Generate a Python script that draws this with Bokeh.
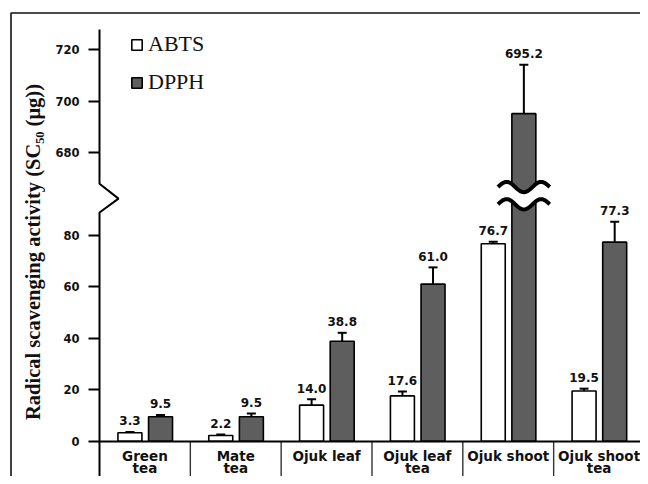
import numpy as np
from bokeh.plotting import figure
from bokeh.models import (ColumnDataSource, Range1d, LinearAxis, FixedTicker, Whisker,
                          TeeHead, Legend, LegendItem, Label)
from bokeh.embed import file_html
from bokeh.resources import INLINE
from bokeh.core.properties import value

# ---------------- data ----------------
categories = ["Green\ntea", "Mate\ntea", "Ojuk leaf", "Ojuk leaf\ntea", "Ojuk shoot", "Ojuk shoot\ntea"]
abts = [3.3, 2.2, 14.0, 17.6, 76.7, 19.5]
abts_err = [0.3, 0.4, 2.3, 1.7, 0.8, 0.9]
dpph = [9.5, 9.5, 38.8, 61.0, 695.2, 77.3]
dpph_err = [0.7, 1.3, 3.3, 6.5, 19.0, 7.9]
y_ticks = [0, 20, 40, 60, 80, 680, 700, 720]
series_names = ["ABTS", "DPPH"]

# ---------------- broken axis mapping ----------------
LOWER_TOP = 80      # last tick of lower segment
UPPER_START = 680   # first tick of upper segment
GAP = 32            # display units between the two segments


def to_disp(v):
    return v if v < 300 else v - UPPER_START + LOWER_TOP + GAP


# ---------------- geometry ----------------
W, H = 640, 476
CW = 90.83          # px per category
X0 = 99             # px from left of y axis
S = 2.575           # px per display unit
Y0 = 440.7          # px from top of zero line
x_start, x_end = -X0 / CW, (W - X0) / CW
y_start, y_end = -(H - Y0) / S, Y0 / S

p = figure(width=W, height=H, x_range=Range1d(x_start, x_end), y_range=Range1d(y_start, y_end),
           output_backend="svg", toolbar_location=None, min_border=0,
           x_axis_type=None, y_axis_type=None)
p.outline_line_color = None
p.background_fill_color = "white"

n = len(categories)
idx = np.arange(n)
OFF_A, OFF_D, BW = 0.335, 0.672, 0.264

ya = [to_disp(v) for v in abts]
yd = [to_disp(v) for v in dpph]
src_a = ColumnDataSource(dict(x=idx + OFF_A, top=ya,
                              up=[to_disp(v + e) for v, e in zip(abts, abts_err)],
                              lo=[to_disp(v - e) for v, e in zip(abts, abts_err)],
                              txt=["%.1f" % v for v in abts]))
src_d = ColumnDataSource(dict(x=idx + OFF_D, top=yd,
                              up=[to_disp(v + e) for v, e in zip(dpph, dpph_err)],
                              lo=[to_disp(v - e) for v, e in zip(dpph, dpph_err)],
                              txt=["%.1f" % v for v in dpph]))

# outer border (top + left)
bx = (10.5 - X0) / CW
by = (Y0 - 12.5) / S
p.line([bx, bx, x_end + 1], [y_start - 1, by, by], line_color="#111111", line_width=1.6)

# category separators below the axis
p.segment(x0=idx[1:].tolist() + [n], y0=[0] * n, x1=idx[1:].tolist() + [n], y1=[y_start] * n,
          line_color="#333333", line_width=1.4)

ra = p.vbar(x="x", top="top", bottom=0, width=BW, source=src_a,
            fill_color="white", line_color="black", line_width=1.6)
rd = p.vbar(x="x", top="top", bottom=0, width=BW, source=src_d,
            fill_color="#5e5e5e", line_color="black", line_width=1.6)

for s in (src_a, src_d):
    p.add_layout(Whisker(source=s, base="x", upper="up", lower="lo", line_width=2,
                         upper_head=TeeHead(size=9, line_width=2),
                         lower_head=TeeHead(size=9, line_width=2)))
    p.text(x="x", y="up", text="txt", source=s, text_align="center", text_baseline="alphabetic",
           y_offset=-11, text_font=value("DejaVu Sans"), text_font_style="bold",
           text_font_size="12px", text_color="#111111")

# break marks on bars above the axis break
t = np.linspace(0, 1, 80)
for i, v in enumerate(dpph):
    if v >= UPPER_START:
        xc = idx[i] + OFF_D
        xs = xc - 0.285 + 0.57 * t
        w1 = 98.7 + 2.0 * np.sin(2 * np.pi * 1.5 * t)
        w2 = 92.0 + 2.0 * np.sin(2 * np.pi * 1.5 * t)
        p.patch(np.concatenate([xs, xs[::-1]]), np.concatenate([w1, w2[::-1]]),
                fill_color="white", line_color=None, level="overlay")
        p.line(xs, w1, line_color="black", line_width=4, level="overlay")
        p.line(xs, w2, line_color="black", line_width=4, level="overlay")

# y-axis line with zig-zag break
p.line([0, 0, 0.209, 0, 0], [159.9, 100.0, 94.2, 88.8, y_start - 1], line_color="black", line_width=2)

# y axis
yax = LinearAxis(fixed_location=0)
yax.ticker = FixedTicker(ticks=[to_disp(v) for v in y_ticks])
yax.major_label_overrides = {to_disp(v): str(v) for v in y_ticks}
yax.axis_line_color = None
yax.major_tick_out = 11
yax.major_tick_in = 0
yax.major_tick_line_width = 2
yax.minor_tick_line_color = None
yax.major_label_standoff = 9
yax.major_label_text_font = "DejaVu Sans"
yax.major_label_text_font_style = "bold"
yax.major_label_text_font_size = "11.5px"
yax.major_label_text_color = "#111111"
p.add_layout(yax, "left")

# x axis (line only; category names drawn below as text, two lines each)
xax = LinearAxis(fixed_location=0)
xax.ticker = FixedTicker(ticks=[i + 0.5 for i in range(n)])
xax.major_label_text_color = None
xax.bounds = (0, x_end)
xax.axis_line_width = 2
xax.axis_line_color = "black"
xax.major_tick_line_color = None
xax.minor_tick_line_color = None
p.add_layout(xax, "below")

line1 = [c.split("\n")[0] for c in categories]
line2 = [c.split("\n")[1] if "\n" in c else "" for c in categories]
cat_src = ColumnDataSource(dict(x=idx + 0.5, y=[0] * n, l1=line1, l2=line2))
for col, off in (("l1", 22.5), ("l2", 34.8)):
    p.text(x="x", y="y", text=col, source=cat_src, text_align="center", text_baseline="bottom",
           y_offset=off, text_font=value("DejaVu Sans"), text_font_style="bold",
           text_font_size="13.5px", text_color="#111111")

# y title
p.add_layout(Label(x=(32 - X0) / CW, y=(Y0 - 251.5) / S, text="Radical scavenging activity (SC₅₀ (μg))",
                   angle=90, angle_units="deg", text_align="center", text_baseline="middle",
                   text_font="Liberation Serif", text_font_style="bold", text_font_size="20.5px",
                   text_color="#111111"))

legend = Legend(items=[LegendItem(label=series_names[0], renderers=[ra]),
                       LegendItem(label=series_names[1], renderers=[rd])],
                location=(130, 381), glyph_width=13, glyph_height=13, label_standoff=5,
                spacing=12, padding=0, margin=0, border_line_color=None,
                background_fill_alpha=0, label_text_font="Liberation Serif",
                label_text_font_size="22px", label_text_color="#111111")
p.add_layout(legend)

open("out.html", "w").write(file_html(p, INLINE))
